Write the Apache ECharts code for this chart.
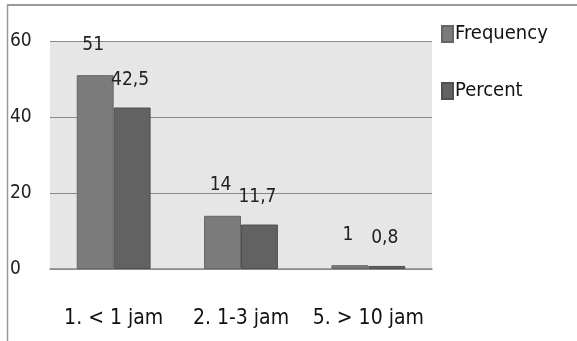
<!DOCTYPE html>
<html>
<head>
<meta charset="utf-8">
<script src="https://cdn.jsdelivr.net/npm/echarts@6/dist/echarts.min.js"></script>
<style>
html,body{margin:0;padding:0;background:#fff;}
#chart{width:577px;height:341px;}
</style>
</head>
<body>
<div id="chart"></div>
<script>
// Usage duration groups and their counts / shares
const categories = ['1. < 1 jam', '2. 1-3 jam', '5. > 10 jam'];
const frequency = [51, 14, 1];
const percent = [42.5, 11.7, 0.8];
const yTicks = [0, 20, 40, 60];

const FONT = "'Liberation Sans Narrow', 'DejaVu Sans Condensed', 'Open Sans', sans-serif";

const chart = echarts.init(document.getElementById('chart'), null, { renderer: 'canvas' });

const labelStyle = {
  show: true,
  position: 'top',
  distance: 18,
  color: '#222',
  fontFamily: FONT,
  fontSize: 19
};

chart.setOption({
  animation: false,
  backgroundColor: '#fff',
  grid: {
    left: 50, right: 145, top: 41, bottom: 72,
    show: true, backgroundColor: '#e6e6e6', borderWidth: 0
  },
  legend: {
    orient: 'vertical',
    left: 436, top: 19,
    itemWidth: 11, itemHeight: 16, itemGap: 37,
    icon: 'rect',
    textStyle: { fontFamily: FONT, fontSize: 20, color: '#111', padding: [0, 0, 0, -3] },
    data: ['Frequency', 'Percent']
  },
  xAxis: {
    type: 'category',
    data: categories,
    axisLine: { show: true, lineStyle: { color: '#8a8a8a', width: 1.5 } },
    axisTick: { show: false },
    axisLabel: { interval: 0, fontFamily: FONT, fontSize: 21, color: '#111', margin: 39 }
  },
  yAxis: {
    type: 'value',
    min: yTicks[0], max: yTicks[yTicks.length - 1], interval: 20,
    axisLine: { show: false },
    axisTick: { show: false },
    splitLine: { lineStyle: { color: '#8a8a8a', width: 1.2 } },
    axisLabel: { fontFamily: FONT, fontSize: 19, color: '#222', margin: 40, align: 'left',
      formatter: v => yTicks.includes(v) ? String(v) : '' }
  },
  graphic: [
    { type: 'line', shape: { x1: 7, y1: 5, x2: 577, y2: 5 }, style: { stroke: '#9a9a9a', lineWidth: 2 } },
    { type: 'line', shape: { x1: 7.5, y1: 5, x2: 7.5, y2: 341 }, style: { stroke: '#9a9a9a', lineWidth: 1.5 } }
  ],
  series: [
    {
      name: 'Frequency', type: 'bar', data: frequency,
      barGap: '0%', barCategoryGap: '42%',
      itemStyle: { color: '#7b7b7b', borderColor: '#666', borderWidth: 1 },
      label: Object.assign({}, labelStyle, { offset: [-2, -3] })
    },
    {
      name: 'Percent', type: 'bar', data: percent,
      itemStyle: { color: '#626262', borderColor: '#505050', borderWidth: 1 },
      label: Object.assign({}, labelStyle, { formatter: p => String(p.value).replace('.', ','), offset: [-2, 0] })
    }
  ]
});
</script>
</body>
</html>
